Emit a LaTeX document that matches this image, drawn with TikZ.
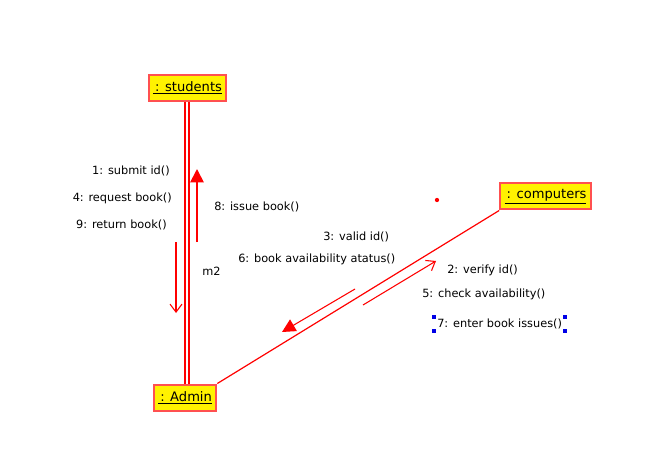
\documentclass[tikz,border=0pt]{standalone}
\usepackage{fontspec}
\setmainfont{DejaVu Sans}
\usetikzlibrary{arrows.meta}
\definecolor{boxred}{RGB}{255,80,80}
\definecolor{lred}{RGB}{255,0,0}
\definecolor{selblue}{RGB}{0,0,230}
\begin{document}
\begin{tikzpicture}[x=0.75pt,y=-0.75pt,
  obj/.style={draw=boxred,line width=1.5pt,fill=yellow,inner sep=2pt,minimum height=19.5pt,font=\fontsize{9.8}{11}\selectfont},
  lbl/.style={font=\fontsize{8.5}{10}\selectfont,inner sep=0pt,text=black},
  link/.style={color=lred,line width=1.1pt},
  msgopen/.style={draw=lred,line width=0.8pt,-{Straight Barb[length=6pt,width=9pt]}},
  msgfill/.style={draw=lred,line width=1.3pt,-{Triangle[length=10pt,width=10pt]}},
  handle/.style={fill=selblue,minimum size=3.2pt,inner sep=0pt}]
\useasboundingbox (0,0) rectangle (655,466);
\node[obj,minimum width=58pt] (stu) at (187.5,88) {\underline{\,: students}};
\node[obj,minimum width=47pt] (adm) at (185,397.5) {\underline{\,: Admin}};
\node[obj,minimum width=68pt] (comp) at (545.5,196.5) {\underline{\,: computers}};
% double link students-admin
\coordinate (dl1) at (185,102); \coordinate (dl2) at (189,102);
\draw[link] (dl1) -- (dl1 |- adm.north);
\draw[link] (dl2) -- (dl2 |- adm.north);
% link admin-computers
\draw[link,line width=0.9pt] (adm.north east) -- (comp.south west);
% arrows
\coordinate (a1s) at (176,242); \coordinate (a1e) at (176,313);
\draw[msgopen] (a1s) -- (a1e);
\coordinate (a2s) at (197,242); \coordinate (a2e) at (197,169);
\draw[msgfill] (a2s) -- (a2e);
\coordinate (a3s) at (355,289); \coordinate (a3e) at (282,332);
\draw[msgopen,-{Triangle[length=10pt,width=10pt]}] (a3s) -- (a3e);
\coordinate (a4s) at (363,305); \coordinate (a4e) at (436,261);
\draw[msgopen] (a4s) -- (a4e);
% dot
\fill[lred] (437,200) circle (1.6pt);
% labels
\node[lbl,anchor=east] (l1) at (170,171) {1: submit id()};
\node[lbl,anchor=east] (l4) at (172,198) {4: request book()};
\node[lbl,anchor=east] (l9) at (167,225) {9: return book()};
\node[lbl,anchor=west] (l8) at (214,207) {8: issue book()};
\node[lbl,anchor=west] (m2) at (202,271) {m2};
\node[lbl,anchor=west] (l3) at (323,237) {3: valid id()};
\node[lbl,anchor=west] (l6) at (238,259) {6: book availability atatus()};
\node[lbl,anchor=west] (l2) at (447,270) {2: verify id()};
\node[lbl,anchor=west] (l5) at (422,294) {5: check availability()};
\node[lbl,anchor=west] (l7) at (437,324) {7: enter book issues()};
\node[handle] (h1) at (434,317) {};
\node[handle] (h2) at (434,331) {};
\node[handle] (h3) at (565,317) {};
\node[handle] (h4) at (565,331) {};
\end{tikzpicture}
\end{document}
